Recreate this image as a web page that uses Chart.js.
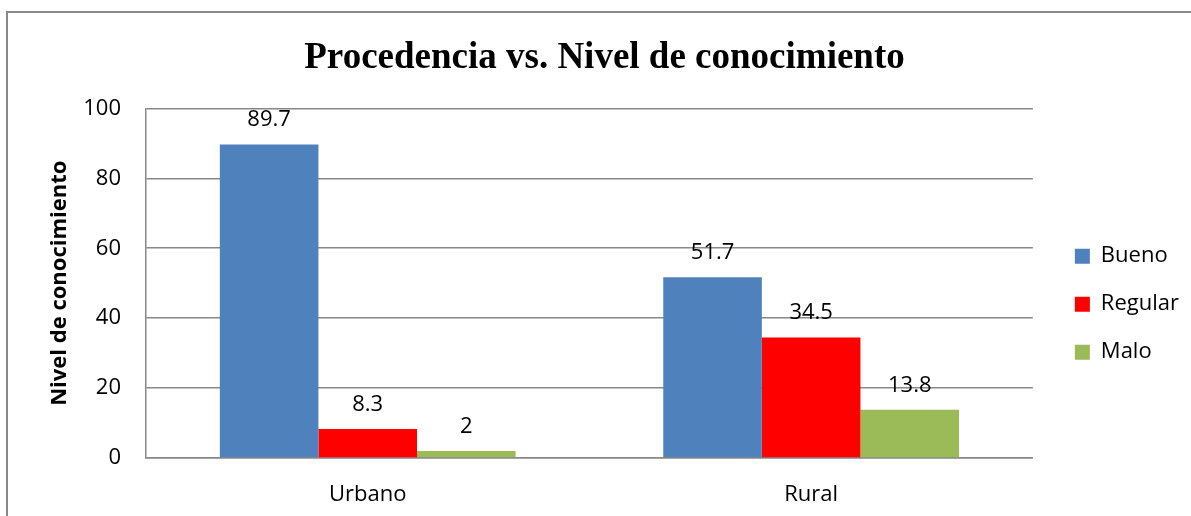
<!DOCTYPE html>
<html>
<head>
<meta charset="utf-8">
<script src="https://cdn.jsdelivr.net/npm/chart.js@4.4.1/dist/chart.umd.min.js"></script>
<style>
  html, body { margin: 0; padding: 0; background: #fff; }
  canvas { display: block; }
</style>
</head>
<body>
<canvas id="chart" width="1191" height="516"></canvas>
<script>
// data
const categories = ['Urbano', 'Rural'];
const bueno = [89.7, 51.7];
const regular = [8.3, 34.5];
const malo = [2, 13.8];
const seriesNames = ['Bueno', 'Regular', 'Malo'];
const yTicks = [0, 20, 40, 60, 80, 100];

const FONT = "'Open Sans', 'Liberation Sans', sans-serif";
const GRID = '#888888';

// value above each bar
const barLabels = {
    id: 'barLabels',
    afterDatasetsDraw(chart) {
        const ctx = chart.ctx;
        ctx.save();
        ctx.font = '22px ' + FONT;
        ctx.fillStyle = '#000';
        ctx.textAlign = 'center';
        ctx.textBaseline = 'alphabetic';
        chart.data.datasets.forEach((ds, i) => {
            chart.getDatasetMeta(i).data.forEach((bar, j) => {
                ctx.fillText(String(ds.data[j]), bar.x, bar.y - 18);
            });
        });
        ctx.restore();
    }
};

// outer chart frame
const frame = {
    id: 'frame',
    afterDraw(chart) {
        const ctx = chart.ctx;
        ctx.save();
        ctx.strokeStyle = '#898989';
        ctx.lineWidth = 2;
        ctx.strokeRect(7, 12, 1400, 800);
        ctx.restore();
    }
};

new Chart(document.getElementById('chart'), {
    type: 'bar',
    data: {
        labels: categories,
        datasets: [
            { label: seriesNames[0], data: bueno, backgroundColor: '#4F81BD' },
            { label: seriesNames[1], data: regular, backgroundColor: '#FF0000' },
            { label: seriesNames[2], data: malo, backgroundColor: '#9BBB59' }
        ]
    },
    options: {
        responsive: false,
        animation: false,
        categoryPercentage: 0.667,
        barPercentage: 1.0,
        layout: { padding: { top: 0, left: 20, right: 2, bottom: 0 } },
        plugins: {
            title: {
                display: true,
                text: 'Procedencia vs. Nivel de conocimiento',
                color: '#000',
                font: { family: "'Liberation Serif', 'Times New Roman', serif", size: 37, weight: 'bold', lineHeight: 1.2 },
                padding: { top: 36, bottom: 28 }
            },
            legend: {
                position: 'right',
                fullSize: false,
                title: { display: true, text: '', padding: 0, font: { size: 42, lineHeight: 1 } },
                labels: {
                    boxWidth: 15,
                    boxHeight: 15,
                    padding: 26,
                    color: '#000',
                    font: { family: FONT, size: 22 }
                }
            },
            tooltip: { enabled: false }
        },
        scales: {
            x: {
                grid: { display: false },
                border: { display: true, color: GRID, width: 1.5 },
                ticks: { color: '#000', padding: 16, font: { family: FONT, size: 22 } },
                afterFit: s => { s.height = 58; }
            },
            y: {
                min: yTicks[0],
                max: yTicks[yTicks.length - 1],
                ticks: { stepSize: yTicks[1] - yTicks[0], color: '#000', padding: 25, font: { family: FONT, size: 22 } },
                grid: { color: GRID, lineWidth: 1.5, drawTicks: false },
                border: { display: true, color: GRID, width: 1.5 },
                title: {
                    display: true,
                    text: 'Nivel de conocimiento',
                    color: '#000',
                    font: { family: FONT, size: 22, weight: 'bold', lineHeight: 1.2 },
                    padding: { top: 27, bottom: 0 }
                },
                afterFit: s => { s.width = 126; }
            },
            spacer: {
                type: 'linear',
                position: 'right',
                grid: { display: false },
                border: { display: false },
                ticks: { display: false },
                afterFit: s => { s.width = 16; }
            }
        }
    },
    plugins: [barLabels, frame]
});
</script>
</body>
</html>
